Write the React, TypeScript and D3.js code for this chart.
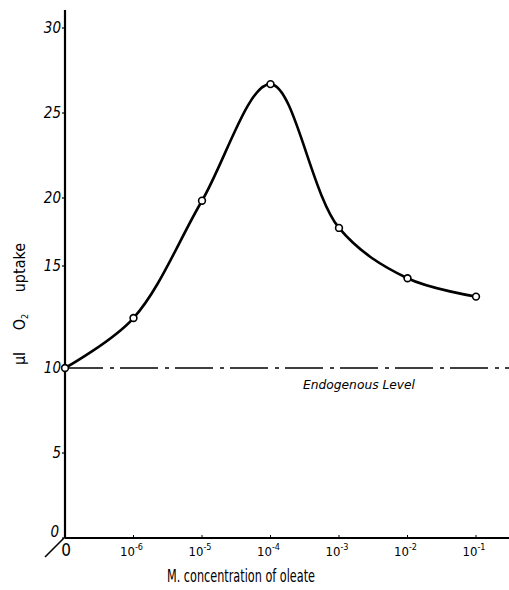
import React from "react";
import * as d3 from "d3";

const categories = ["0", "-6", "-5", "-4", "-3", "-2", "-1"];
const uptake = [10, 12.45, 19.8, 26.7, 17.8, 14.4, 13.5];
const yTicks = [0, 5, 10, 15, 20, 25, 30];
const endogenous = 10;
const xTitle = "M. concentration of oleate";
const endoLabel = "Endogenous Level";

const W = 509;
const H = 590;
const x0 = 65;
const yBase = 538;

export default function App() {
  const x = d3
    .scalePoint<string>()
    .domain(categories)
    .range([x0, 476]);
  // hand-drawn axis: graduations are slightly uneven
  const y = d3
    .scaleLinear()
    .domain([0, 10, 15, 20, 30])
    .range([yBase, 368, 266, 198, 28]);

  const pts = categories.map((c, i) => [x(c) as number, y(uptake[i])] as [number, number]);
  const line = d3.line().curve(d3.curveCatmullRom.alpha(0.5))(pts) || "";

  const italic = { fontFamily: "DejaVu Sans Condensed, DejaVu Sans, sans-serif", fontStyle: "italic" as const };
  const cond = { fontFamily: "DejaVu Sans Condensed, DejaVu Sans, sans-serif" };

  return (
    <div style={{ position: "absolute", left: 0, top: 0 }}>
      <svg width={W} height={H} style={{ display: "block", background: "#fff" }}>
        {/* axes */}
        <line x1={x0} y1={10} x2={x0} y2={yBase} stroke="#000" strokeWidth={2.2} />
        <line x1={x0} y1={yBase} x2={W} y2={yBase} stroke="#000" strokeWidth={2.2} />
        <line x1={x0 - 1} y1={yBase} x2={45} y2={557} stroke="#000" strokeWidth={1.6} />

        {/* y ticks */}
        {yTicks.map((t) => (
          <g key={t}>
            <line x1={x0 - 3} x2={x0} y1={y(t)} y2={y(t)} stroke="#000" strokeWidth={1.2} />
            <text
              x={t === 0 ? 59 : 61}
              y={y(t) + (t === 0 ? -1 : 5)}
              textAnchor="end"
              fontSize={15}
              {...italic}
            >
              {t}
            </text>
          </g>
        ))}

        {/* x ticks */}
        {categories.map((c) => (
          <g key={c}>
            {c !== "0" && (
              <line x1={x(c)} x2={x(c)} y1={yBase - 3} y2={yBase} stroke="#000" strokeWidth={1} />
            )}
            {c === "0" ? (
              <text x={(x(c) as number) + 1} y={yBase + 18} textAnchor="middle" fontSize={17} {...cond}>
                0
              </text>
            ) : (
              <text x={(x(c) as number) - 2} y={yBase + 18} textAnchor="middle" fontSize={13} {...cond}>
                10
                <tspan fontSize={9} dy={-6}>
                  {c}
                </tspan>
              </text>
            )}
          </g>
        ))}

        {/* endogenous level */}
        <line
          x1={x0}
          x2={W}
          y1={y(endogenous)}
          y2={y(endogenous)}
          stroke="#000"
          strokeWidth={1.6}
          strokeDasharray="38 7 4 6"
        />
        <text x={303} y={389} fontSize={13} textLength={112} lengthAdjust="spacingAndGlyphs" {...italic}>
          {endoLabel}
        </text>

        {/* curve */}
        <path d={line} fill="none" stroke="#000" strokeWidth={2.6} />
        {pts.map((p, i) => (
          <circle key={i} cx={p[0]} cy={p[1]} r={3.4} fill="#fff" stroke="#000" strokeWidth={1.6} />
        ))}

        {/* titles */}
        <text
          x={167}
          y={582}
          fontSize={17.5}
          textLength={148}
          lengthAdjust="spacingAndGlyphs"
          {...cond}
        >
          {xTitle}
        </text>
        <text
          transform={`translate(25,304) rotate(-90)`}
          textAnchor="middle"
          fontSize={16}
          {...cond}
        >
          μl{"\u2003\u2002"}O
          <tspan fontSize={9} dy={3}>2</tspan>
          <tspan dy={-3}>{"\u2003\u2002"}uptake</tspan>
        </text>
      </svg>
    </div>
  );
}
